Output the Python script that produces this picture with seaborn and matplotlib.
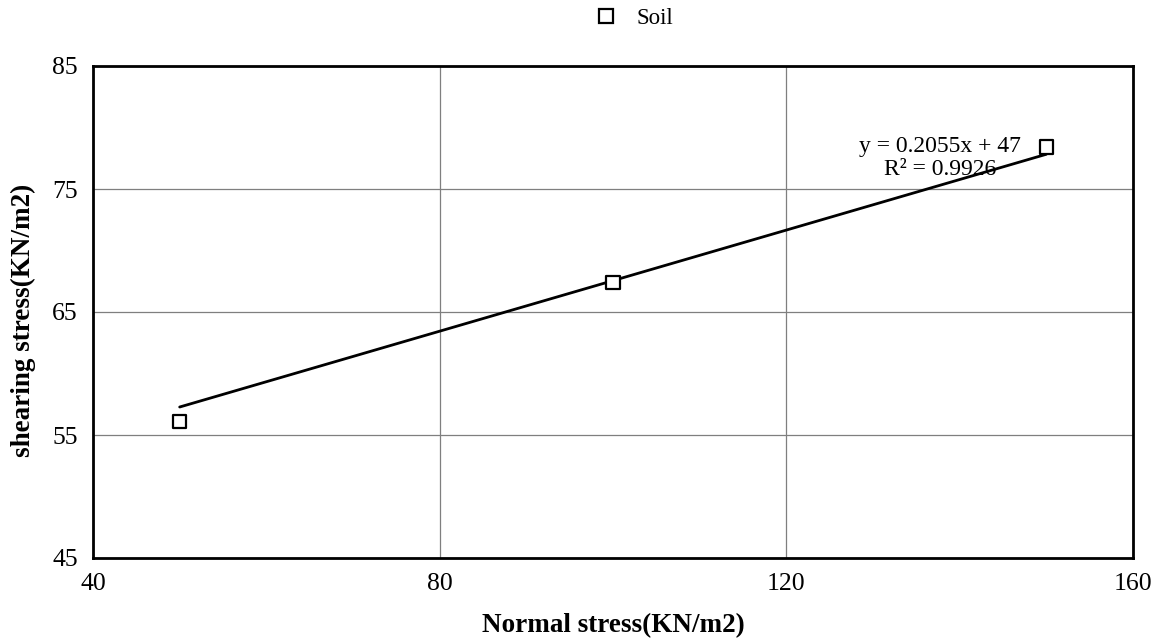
import numpy as np
import pandas as pd
import matplotlib
matplotlib.use("Agg")
import matplotlib.pyplot as plt
import seaborn as sns

# Direct shear test results
normal_stress = [50, 100, 150]
shear_stress = [56.1, 67.4, 78.4]
series_name = "Soil"

# Linear trendline reported for the test
slope = 0.2055
intercept = 47
r_squared = 0.9926

x_ticks = [40, 80, 120, 160]
y_ticks = [45, 55, 65, 75, 85]

sns.set_theme(style="white")
plt.rcParams["font.family"] = ["Liberation Serif", "DejaVu Serif"]
plt.rcParams["text.color"] = "black"

df = pd.DataFrame({"Normal stress": normal_stress, "Shear stress": shear_stress, "Series": series_name})

fig = plt.figure(figsize=(11.67, 6.41), dpi=100)
ax = fig.add_axes([93 / 1167, 1 - 558 / 641, (1133 - 93) / 1167, (558 - 66) / 641])

# trendline across the data range
trend_x = np.array([min(normal_stress), max(normal_stress)])
trend = pd.DataFrame({"x": trend_x, "y": slope * trend_x + intercept})
sns.lineplot(data=trend, x="x", y="y", ax=ax, color="black", linewidth=2.0, zorder=3, legend=False)

sns.scatterplot(data=df, x="Normal stress", y="Shear stress", hue="Series", palette=["white"],
                marker="s", s=95, edgecolor="black", linewidth=1.6, ax=ax, zorder=4, legend=False)

ax.set_xlim(40, 160)
ax.set_ylim(45, 85)
ax.set_xticks(x_ticks)
ax.set_yticks(y_ticks)
ax.set_xticklabels([str(t) for t in x_ticks])
ax.set_yticklabels([str(t) for t in y_ticks])
ax.grid(True, color="#7f7f7f", linewidth=0.9)
ax.set_axisbelow(True)

for side in ["left", "right", "top", "bottom"]:
    ax.spines[side].set_visible(True)
    ax.spines[side].set_color("black")
    ax.spines[side].set_linewidth(2.0)

ax.tick_params(axis="both", which="major", direction="out", length=6, width=1.6,
               color="black", labelsize=18.5, labelcolor="black", pad=5)
ax.tick_params(axis="x", pad=5)

ax.set_xlabel("Normal stress(KN/m2)", fontsize=19.5, fontweight="bold", color="black")
ax.set_ylabel("shearing stress(KN/m2)", fontsize=19.5, fontweight="bold", color="black")
ax.xaxis.set_label_coords(0.5, -(626 - 558) / (558 - 66), transform=ax.transAxes)
ax.yaxis.set_label_coords(-(93 - 23) / (1133 - 93), 0.5 - (320 - 312) / (558 - 66), transform=ax.transAxes)
ax.xaxis.label.set_va("center")
ax.yaxis.label.set_va("center")

ax.text(137.7, 77.5, f"y = {slope}x + {intercept}\nR² = {r_squared}",
        ha="center", va="center", fontsize=17, color="black", linespacing=1.15, zorder=5)

# legend above the plot
handle = plt.Line2D([], [], marker="s", linestyle="none", markersize=9.5,
                    markerfacecolor="white", markeredgecolor="black", markeredgewidth=1.6)
fig.legend([handle], [series_name], loc="center", bbox_to_anchor=(634 / 1167, 1 - 18 / 641),
           frameon=False, fontsize=16.5, handletextpad=0.8, handlelength=1.0, labelcolor="black")

fig.savefig("out.png", dpi=100)
